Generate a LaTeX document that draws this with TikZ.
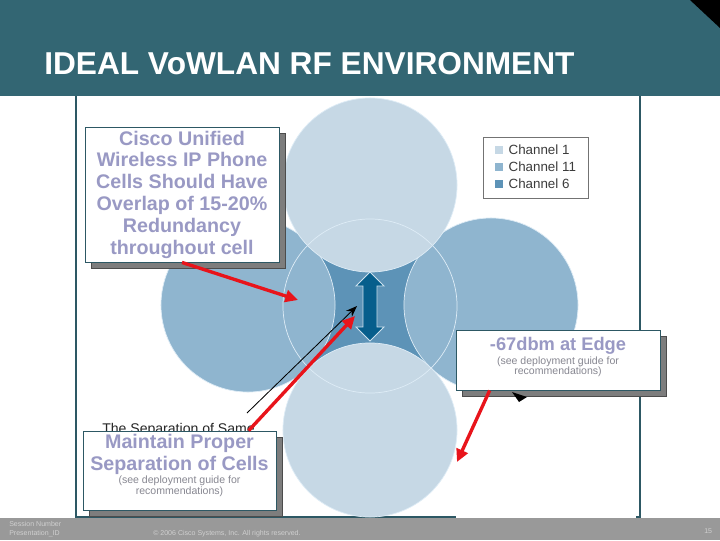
\documentclass[tikz,border=0pt]{standalone}
\usepackage{fontspec}
\setmainfont{Liberation Sans}
\usepackage{xcolor}
\usepackage{tikz}
\usetikzlibrary{positioning,arrows.meta,shadows}

\definecolor{bannerteal}{RGB}{51,102,115}
\definecolor{frameteal}{RGB}{45,88,100}
\definecolor{chone}{RGB}{198,216,229}
\definecolor{cheleven}{RGB}{143,181,207}
\definecolor{chsix}{RGB}{93,147,183}
\definecolor{rimblue}{RGB}{222,236,246}
\definecolor{gapblue}{RGB}{6,94,140}
\definecolor{lavender}{RGB}{153,153,196}
\definecolor{notegray}{RGB}{135,135,145}
\definecolor{shadowgray}{RGB}{125,125,125}
\definecolor{footgray}{RGB}{153,153,153}
\definecolor{foottext}{RGB}{208,208,208}
\definecolor{redarrow}{RGB}{232,20,27}
\definecolor{legendtext}{RGB}{60,60,60}

\newcommand{\seenote}[1]{{\fontsize{7.5}{8}\selectfont\mdseries\color{notegray}#1}}

\tikzset{
  cell/.style={circle, minimum size=4.35cm, inner sep=0pt, draw=rimblue, line width=0.5pt},
  callout/.style={rectangle, fill=white, draw=frameteal, line width=0.6pt, align=center,
    inner sep=0pt, text=lavender, font=\fontsize{14}{15.5}\selectfont\bfseries,
    copy shadow={shadow xshift=4.3pt, shadow yshift=-4.3pt, fill=shadowgray, draw=black!70}},
  pointer/.style={draw=redarrow, line width=2.4pt, -{Triangle[length=9pt,width=8.5pt]}},
  swatch/.style={rectangle, minimum size=0.2cm, inner sep=0pt},
  chlabel/.style={inner sep=0pt, font=\fontsize{9.5}{10}\selectfont, text=legendtext},
  foot/.style={inner sep=0pt, anchor=base west, text=foottext, font=\fontsize{5}{6}\selectfont}
}

\begin{document}
\begin{tikzpicture}[x=0.025cm, y=-0.025cm]
\useasboundingbox (0,0) rectangle (720,540);
\fill[white] (0,0) rectangle (720,540);

\fill[bannerteal] (0,0) rectangle (720,96);
\fill[black] (690,0) -- (720,0) -- (720,28) -- cycle;
\node[anchor=base west, inner sep=0pt, text=white, font=\fontsize{22.5}{27}\selectfont\bfseries] (title) at (44,74) {IDEAL VoWLAN RF ENVIRONMENT};

\draw[frameteal, line width=1.4pt] (76,96) -- (76,517) -- (456,517);
\draw[frameteal, line width=1.4pt] (640,96) -- (640,517) -- (636,517);

\node[cell, fill=chsix, draw=none] (middle) at (370,306) {};
\node[cell, fill=cheleven] (west) at (248,305) {};
\node[cell, fill=cheleven] (east) at (491,305) {};
\node[cell, fill=chone] (north) at (370,185) {};
\node[cell, fill=chone] (south) at (370,430) {};
\node[cell, fill=none] (rim) at (370,306) {};

\filldraw[fill=gapblue, draw=rimblue!80!cheleven, line width=0.6pt]
  (370,272) -- (384,286) -- (377,286) -- (377,327) -- (384,327) -- (370,341)
  -- (356,327) -- (363,327) -- (363,286) -- (356,286) -- cycle;

\node[rectangle, fill=white, draw=black!55, line width=0.5pt, minimum width=2.625cm, minimum height=1.525cm] (legend) at (535.5,167.5) {};
\node[swatch, fill=chone] (swone) at (499,150) {};
\node[swatch, fill=cheleven] (sweleven) at (499,167) {};
\node[swatch, fill=chsix] (swsix) at (499,184) {};
\node[chlabel, right=3.6pt of swone] (lblone) {Channel 1};
\node[chlabel, right=3.6pt of sweleven] (lbleleven) {Channel 11};
\node[chlabel, right=3.6pt of swsix] (lblsix) {Channel 6};

\node[anchor=base west, inner sep=0pt, text=black!85, font=\fontsize{10}{12}\selectfont] (hidden) at (102,433) {The Separation of Same};

\coordinate (handtail) at (247,413);
\coordinate (handtip) at (357,306);
\draw[black, line width=0.6pt, -{Stealth[length=8pt,width=6pt]}] (handtail) -- (handtip);

\node[callout, minimum width=4.85cm, minimum height=3.375cm] (overlapbox) at (182,194.5)
  {Cisco Unified\\Wireless IP Phone\\Cells Should Have\\Overlap of 15-20\%\\Redundancy\\throughout cell};
\node[callout, font=\fontsize{13}{15.5}\selectfont\bfseries, minimum width=5.1cm, minimum height=1.5cm] (edgebox) at (558,360)
  {-67dbm at Edge\\[-5.5pt]\seenote{(see deployment guide for}\\[-8pt]\seenote{recommendations)\rule[-6pt]{0pt}{6pt}}};
\node[callout, minimum width=4.825cm, minimum height=1.975cm] (separationbox) at (179.5,470.5)
  {Maintain Proper\\Separation of Cells\\[-5.8pt]\seenote{(see deployment guide for}\\[-7.7pt]\seenote{recommendations)\rule[-8.5pt]{0pt}{8.5pt}}};

\fill[black] (512,392) -- (527,397) -- (519,402) -- cycle;

\coordinate (overlaptip) at (298,300);
\coordinate (gaptip) at (355,316);
\coordinate (edgetip) at (457,462);
\draw[pointer] (overlapbox.south) -- (overlaptip);
\draw[pointer] (separationbox.30) -- (gaptip);
\draw[pointer] (edgebox.204) -- (edgetip);

\fill[footgray] (0,518) rectangle (720,540);
\node[foot] (session) at (9,526) {Session Number};
\node[foot] (presid) at (9,535) {Presentation\_ID};
\node[foot] (copyright) at (153,535) {\textcopyright{} 2006 Cisco Systems, Inc. All rights reserved.};
\node[foot] (pagenum) at (704,533) {15};
\end{tikzpicture}
\end{document}
